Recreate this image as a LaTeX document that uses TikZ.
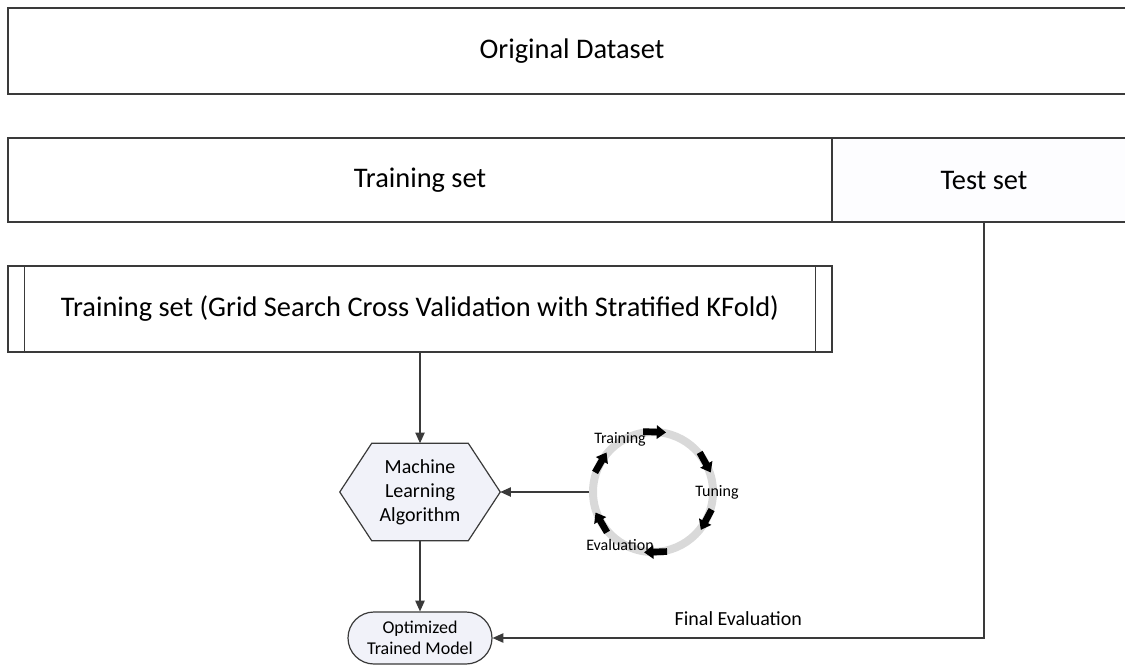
\documentclass[tikz,border=0pt]{standalone}
\usepackage{fontspec}
\setmainfont{Carlito}
\usetikzlibrary{arrows.meta,shapes.misc}
\definecolor{edge}{HTML}{3A3A3A}
\definecolor{ring}{HTML}{D9D9D9}
\definecolor{shapefill}{HTML}{F1F2F9}
\tikzset{
  box/.style={draw=edge, line width=1pt, fill=white, inner sep=0pt, font=\fontsize{21.3}{24}\selectfont},
  conn/.style={draw=edge, line width=0.9pt, -{Triangle[length=8pt,width=7pt]}},
  small/.style={font=\fontsize{12}{14}\selectfont, inner sep=0pt},
  cycarrow/.style={line width=5pt, black, -{Triangle[length=7pt,width=10pt]}},
}
\begin{document}
\begin{tikzpicture}[x=0.75pt,y=-0.75pt]
\useasboundingbox (0,0) rectangle (1125,668);
\clip (0,0) rectangle (1125,668);
% top boxes
\node[box, minimum width=846pt, minimum height=64.5pt] (orig) at (572,51) {Original Dataset};
\node[box, minimum width=618pt, minimum height=63pt] (train) at (420,180) {Training set};
\node[box, minimum width=228pt, minimum height=63pt, fill=white!97!blue!20] (test) at (984,180) {Test set};
% process box
\node[box, minimum width=618pt, minimum height=64.5pt] (cv) at (420,309) {Training set (Grid Search Cross Validation with Stratified KFold)};
\draw[edge, line width=1pt] ([xshift=12.75pt]cv.north west) -- ([xshift=12.75pt]cv.south west);
\draw[edge, line width=1pt] ([xshift=-12.75pt]cv.north east) -- ([xshift=-12.75pt]cv.south east);
% hexagon
\node[minimum width=120pt, minimum height=72.75pt, inner sep=0pt] (mla) at (420,492) {};
\draw[edge, line width=0.9pt, fill=shapefill]
  (mla.west) -- ([xshift=24pt]mla.north west) -- ([xshift=-24pt]mla.north east) --
  (mla.east) -- ([xshift=-24pt]mla.south east) -- ([xshift=24pt]mla.south west) -- cycle;
\node[align=center, font=\fontsize{15}{18}\selectfont, inner sep=0pt] (mlatext) at (mla.center) {Machine\\Learning\\Algorithm};
% terminal
\node[draw=edge, line width=0.9pt, fill=shapefill, rounded rectangle, minimum width=108pt, minimum height=39pt,
      inner sep=0pt, align=center, font=\fontsize{13.5}{16}\selectfont] (model) at (420,638) {Optimized\\Trained Model};
% cycle
\node[circle, draw=ring, line width=6pt, minimum size=90pt, inner sep=0pt] (cyc) at (653,492) {};
\foreach \a in {88,29,-28,-88,-150,150}{
  \draw[cycarrow] ({653+60*cos(\a)-12*sin(\a)},{492-60*sin(\a)-12*cos(\a)}) -- ({653+60*cos(\a)+11*sin(\a)},{492-60*sin(\a)+11*cos(\a)});
}
\node[small] (ltrain) at (620,439) {Training};
\node[small] (ltune) at (717,492) {Tuning};
\node[small] (leval) at (620,545) {Evaluation};
% connectors
\draw[conn] (cv.south) -- (mla.north);
\draw[conn] (cyc.west) -- (mla.east);
\draw[conn] (mla.south) -- (model.north);
\draw[conn] (test.south) |- node[pos=0.75, above=9pt, font=\fontsize{15}{17}\selectfont, inner sep=0pt] (fe) {Final Evaluation} (model.east);
\end{tikzpicture}
\end{document}
